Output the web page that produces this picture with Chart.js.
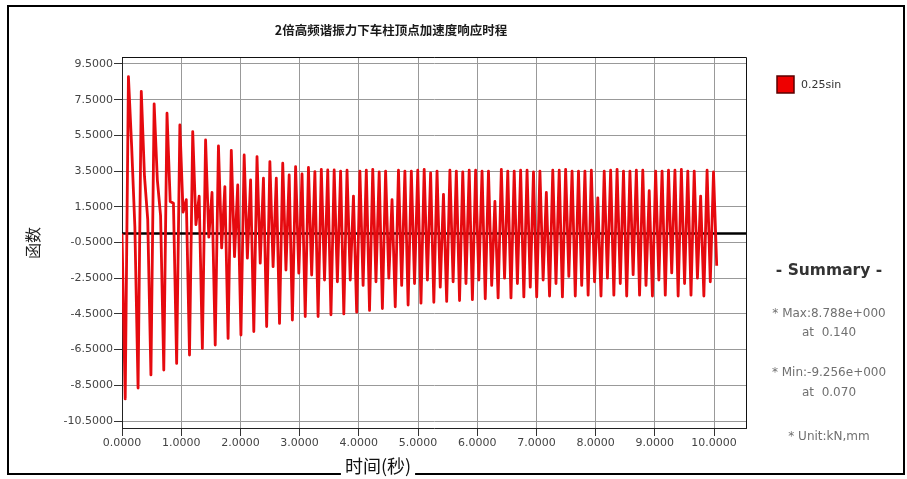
<!DOCTYPE html>
<html>
<head>
<meta charset="utf-8">
<script src="https://cdn.jsdelivr.net/npm/chart.js@4.4.0/dist/chart.umd.min.js"></script>
<style>
  html, body { margin: 0; padding: 0; background: #fff; }
  #wrap { width: 907px; height: 479px; }
</style>
</head>
<body>
<div id="wrap"><canvas id="respuesta" width="907" height="479"></canvas></div>
<script>
// muestreo uniforme (s)
const timeStep = 0.0543;

// respuesta, una muestra por paso
const response = [
  0, -9.26,
  8.79, 4.9, 0.4, -8.65,
  7.97, 3.2, 0.8, -7.92,
  7.27, 3.0, 1.0, -7.64,
  6.74, 1.8, 1.7, -7.27,
  6.08, 1.2, 1.9, -6.80,
  5.71, 0.5, 2.1, -6.43,
  5.24, -0.2, 2.3, -6.24,
  4.91, -0.8, 2.63, -5.87,
  4.66, -1.29, 2.72, -5.68,
  4.40, -1.38, 3.00, -5.49,
  4.31, -1.66, 3.10, -5.21,
  4.03, -1.85, 3.10, -5.03,
  3.94, -2.04, 3.28, -4.84,
  3.75, -2.22, 3.34, -4.65,
  3.70, -2.32, 3.47, -4.65,
  3.60, -2.60, 3.56, -4.55,
  3.56, -2.7, 3.50, -4.50,
  3.55, -2.6, 2.1, -4.40,
  3.50, -2.9, 3.55, -4.30,
  3.60, -2.7, 3.45, -4.20,
  3.50, -2.5, 1.9, -4.10,
  3.55, -2.9, 3.50, -4.00,
  3.50, -2.8, 3.55, -3.90,
  3.60, -2.6, 3.40, -3.85,
  3.50, -3.0, 2.2, -3.80,
  3.55, -2.7, 3.50, -3.75,
  3.45, -2.8, 3.55, -3.70,
  3.55, -2.6, 3.50, -3.65,
  3.50, -2.9, 1.8, -3.60,
  3.60, -2.5, 3.50, -3.60,
  3.50, -2.8, 3.55, -3.55,
  3.55, -3.0, 3.45, -3.55,
  3.50, -2.6, 2.3, -3.50,
  3.55, -2.8, 3.55, -3.55,
  3.60, -2.4, 3.50, -3.50,
  3.50, -2.9, 3.50, -3.45,
  3.55, -2.7, 2.0, -3.50,
  3.50, -2.5, 3.55, -3.45,
  3.60, -2.8, 3.50, -3.50,
  3.50, -2.3, 3.55, -3.45,
  3.55, -2.9, 2.4, -3.50,
  3.50, -2.6, 3.50, -3.45,
  3.55, -2.2, 3.55, -3.50,
  3.60, -2.8, 3.50, -3.45,
  3.50, -2.5, 2.1, -3.50,
  3.55, -2.7, 3.45, -1.8
];

const baseLevel = [0, 0];
const baseSpan = [0, 10.54];

const xTicks = [0, 1, 2, 3, 4, 5, 6, 7, 8, 9, 10];
const yTicks = [-10.5, -8.5, -6.5, -4.5, -2.5, -0.5, 1.5, 3.5, 5.5, 7.5, 9.5];

const seriesName = '0.25sin';
const chartTitle = '2倍高频谐振力下车柱顶点加速度响应时程';
const xTitle = '时间(秒)';
const yTitle = '函数';
const summaryHead = '- Summary -';
const summaryLines = ['* Max:8.788e+000', 'at  0.140', '* Min:-9.256e+000', 'at  0.070', '* Unit:kN,mm'];

const cjk = '"Noto Sans CJK SC", sans-serif';
const latin = '"DejaVu Sans", sans-serif';

// marco, títulos, leyenda y resumen
const decor = {
  id: 'decor',
  afterDraw(chart) {
    const ctx = chart.ctx;
    const a = chart.chartArea;
    ctx.save();

    ctx.strokeStyle = '#111';
    ctx.lineWidth = 1;
    ctx.beginPath();
    ctx.moveTo(a.left, Math.round(a.top) + 0.5);
    ctx.lineTo(Math.round(a.right) + 0.5, Math.round(a.top) + 0.5);
    ctx.lineTo(Math.round(a.right) + 0.5, a.bottom);
    ctx.stroke();

    ctx.lineWidth = 2;
    ctx.strokeStyle = '#000';
    ctx.strokeRect(8, 6, 896, 468);

    ctx.textAlign = 'center';
    ctx.textBaseline = 'middle';
    ctx.fillStyle = '#1a1a1a';
    ctx.font = 'bold 12.5px ' + cjk;
    ctx.fillText(chartTitle, 391, 30);

    ctx.font = '18px ' + cjk;
    const w = ctx.measureText(xTitle).width;
    ctx.fillStyle = '#fff';
    ctx.fillRect(378 - w / 2 - 4, 468, w + 8, 10);
    ctx.fillStyle = '#111';
    ctx.fillText(xTitle, 378, 466);

    ctx.save();
    ctx.translate(33, 243);
    ctx.rotate(-Math.PI / 2);
    ctx.font = '16px ' + cjk;
    ctx.fillStyle = '#222';
    ctx.fillText(yTitle, 0, 0);
    ctx.restore();

    // leyenda
    ctx.fillStyle = '#ee0000';
    ctx.fillRect(777, 76, 17, 17);
    ctx.strokeStyle = '#5a0000';
    ctx.lineWidth = 1.5;
    ctx.strokeRect(777, 76, 17, 17);
    ctx.textAlign = 'left';
    ctx.fillStyle = '#333';
    ctx.font = '11px ' + latin;
    ctx.fillText(seriesName, 801, 85);

    // resumen
    ctx.textAlign = 'center';
    ctx.fillStyle = '#333';
    ctx.font = 'bold 15.5px ' + latin;
    ctx.fillText(summaryHead, 829, 271);
    ctx.fillStyle = '#707070';
    ctx.font = '12px ' + latin;
    const ys = [314, 333, 373, 393, 437];
    summaryLines.forEach((t, i) => ctx.fillText(t, 829, ys[i]));

    ctx.restore();
  }
};

const ctx = document.getElementById('respuesta').getContext('2d');
const grafico = new Chart(ctx, {
  type: 'line',
  data: {
    datasets: [{
      label: seriesName,
      data: response.map((v, i) => ({ x: i * timeStep, y: v })),
      borderColor: 'rgb(230, 10, 15)',
      borderWidth: 2.8,
      borderJoinStyle: 'round',
      pointRadius: 0,
      tension: 0
    }, {
      label: 'base',
      data: baseSpan.map((x, i) => ({ x: x, y: baseLevel[i] })),
      borderColor: '#000',
      borderWidth: 2.5,
      pointRadius: 0
    }]
  },
  options: {
    responsive: false,
    animation: false,
    devicePixelRatio: 1,
    layout: { padding: { top: 57, right: 161, bottom: 0, left: 0 } },
    plugins: { legend: { display: false }, title: { display: false }, tooltip: { enabled: false } },
    scales: {
      x: {
        type: 'linear',
        min: 0,
        max: 10.54,
        afterBuildTicks: s => { s.ticks = xTicks.map(v => ({ value: v })); },
        afterFit: s => { s.height = 51; },
        ticks: {
          callback: v => v.toFixed(4),
          font: { family: 'DejaVu Sans', size: 11 },
          color: '#444',
          padding: 1,
          maxRotation: 0,
          autoSkip: false
        },
        grid: { color: '#999', tickColor: '#333', tickLength: 8 },
        border: { color: '#222' }
      },
      y: {
        min: -10.89,
        max: 9.89,
        afterBuildTicks: s => { s.ticks = yTicks.map(v => ({ value: v })); },
        afterFit: s => { s.width = 122; },
        ticks: {
          callback: v => v.toFixed(4),
          font: { family: 'DejaVu Sans', size: 11 },
          color: '#444',
          padding: 1,
          autoSkip: false
        },
        grid: { color: '#999', tickColor: '#333', tickLength: 8 },
        border: { color: '#222' }
      }
    }
  },
  plugins: [decor]
});
</script>
</body>
</html>
